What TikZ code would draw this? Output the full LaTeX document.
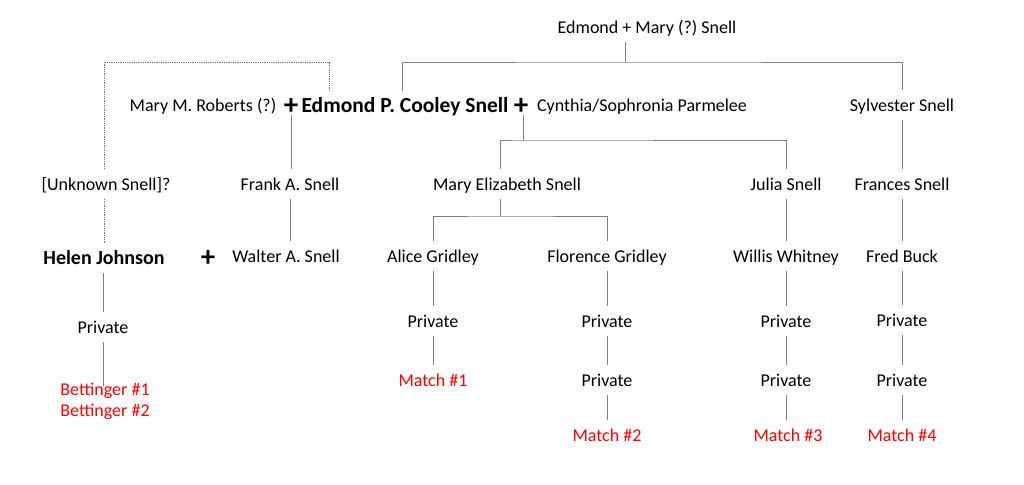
\documentclass[tikz,border=0pt]{standalone}
\usepackage{fontspec}
\setmainfont{Carlito}
\begin{document}
\frenchspacing
\begin{tikzpicture}[x=1pt,y=-1pt,
  person/.style={inner xsep=2pt,inner ysep=6.5pt,text height=15pt,text depth=2pt,font=\fontsize{18}{21}\selectfont\frenchspacing},
  bperson/.style={person,font=\fontsize{21.5}{24}\selectfont\bfseries},
  hperson/.style={person,font=\fontsize{20}{24}\selectfont\bfseries},
  match/.style={person,text=red},
  plussign/.style={inner sep=1pt,font=\fontsize{29}{32}\selectfont\bfseries},
  link/.style={draw=black!50,line width=0.9pt},
  dlink/.style={draw=black!55,line width=0.8pt,densely dotted}]
\useasboundingbox (0,0) rectangle (1024,484);
\node[person] (top) at (647,27) {Edmond + Mary (?) Snell};
\node[person] (mmr) at (203,105) {Mary M. Roberts (?)};
\node[plussign] (plus1) at (291,106) {+};
\node[bperson] (edp) at (405,106) {Edmond P. Cooley Snell};
\node[plussign] (plus2) at (521,106) {+};
\node[person] (csp) at (642,105) {Cynthia/Sophronia Parmelee};
\node[person] (syl) at (902,105) {Sylvester Snell};
\node[person] (unk) at (106,184) {[Unknown Snell]?};
\node[person] (frank) at (290,184) {Frank A. Snell};
\node[person] (mes) at (507,184) {Mary Elizabeth Snell};
\node[person] (julia) at (786,184) {Julia Snell};
\node[person] (frances) at (902,184) {Frances Snell};
\node[hperson] (helen) at (104,258) {Helen Johnson};
\node[plussign] (plus3) at (208,258) {+};
\node[person] (walter) at (286,256) {Walter A. Snell};
\node[person] (alice) at (433,256) {Alice Gridley};
\node[person] (flor) at (607,256) {Florence Gridley};
\node[person] (willis) at (786,256) {Willis Whitney};
\node[person] (fred) at (902,256) {Fred Buck};
\node[person] (priv0) at (103,327) {Private};
\node[person] (priv1) at (433,321) {Private};
\node[person] (priv2) at (607,321) {Private};
\node[person] (priv3) at (786,321) {Private};
\node[person] (priv4) at (902,320) {Private};
\node[match] (m1) at (433,380) {Match \#1};
\node[person] (priv2b) at (607,380) {Private};
\node[person] (priv3b) at (786,380) {Private};
\node[person] (priv4b) at (902,380) {Private};
\node[match] (m2) at (607,435) {Match \#2};
\node[match] (m3) at (788,435) {Match \#3};
\node[match] (m4) at (902,435) {Match \#4};
\node[match,align=center] (bet) at (105,410) {Bettinger \#1\\Bettinger \#2};
% junctions
\coordinate (j1) at (625,62);
\coordinate (j2) at (523,140);
\coordinate (j3) at (500,216);
\coordinate (dd) at (329,62);
% top family
\draw[link] (top.south -| j1) -- (j1);
\draw[link] ([xshift=-3pt]edp.north) |- (j1) -| (syl.north);
% dotted link
\draw[dlink] (unk.north -| helen.north) |- (dd) -- (dd |- edp.north);
\draw[dlink] (helen.north |- unk.south) -- (helen.north);
% Edmond + Mary M. Roberts
\draw[link] (plus1.south) -- (plus1.south |- frank.north);
\draw[link] (frank.south) -- (frank.south |- walter.north);
% Edmond + Cynthia
\draw[link] (plus2.south -| j2) -- (j2);
\draw[link] (mes.north -| j3) |- (j2) -| (julia.north);
\draw[link] (mes.south -| j3) -- (j3);
\draw[link] (alice.north) |- (j3) -| (flor.north);
\draw[link] (alice.south) -- (priv1.north);
\draw[link] (priv1.south) -- (m1.north);
\draw[link] (flor.south) -- (priv2.north);
\draw[link] (priv2.south) -- (priv2b.north);
\draw[link] (priv2b.south) -- (m2.north);
\draw[link] (julia.south) -- (willis.north);
\draw[link] (willis.south) -- (priv3.north);
\draw[link] (priv3.south) -- (priv3b.north);
\draw[link] (priv3b.south) -- (priv3b.south |- m3.north);
% Sylvester
\draw[link] (syl.south) -- (frances.north);
\draw[link] (frances.south) -- (fred.north);
\draw[link] (fred.south) -- (priv4.north);
\draw[link] (priv4.south) -- (priv4b.north);
\draw[link] (priv4b.south) -- (m4.north);
% Helen
\draw[link] (helen.south -| priv0) -- (priv0.north);
\draw[link] (priv0.south) -- ([yshift=9pt]priv0.south |- bet.north);
\end{tikzpicture}
\end{document}
